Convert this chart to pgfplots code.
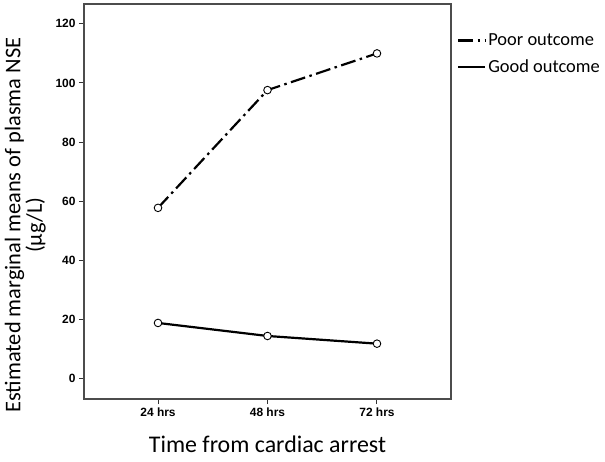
\documentclass[border=0pt]{standalone}
\usepackage{fontspec}
\setmainfont{Carlito}
\newfontfamily\tickfont{Liberation Sans}
\usepackage{pgfplots}
\pgfplotsset{compat=1.18}
\begin{document}
\begin{tikzpicture}
\useasboundingbox (0,0) rectangle (605bp,462bp);
\begin{axis}[
  at={(84bp,63bp)}, anchor=south west,
  scale only axis, width=367bp, height=395bp,
  xmin=0.324, xmax=3.676, ymin=-6.8, ymax=126.7,
  xtick={1,2,3}, xticklabels={24 hrs,48 hrs,72 hrs},
  ytick={0,20,...,120},
  tick align=outside, tick pos=left, major tick length=5bp,
  tick style={black!80, line width=1bp},
  ticklabel style={font=\tickfont\bfseries\fontsize{12}{13}\selectfont},
  /pgf/number format/assume math mode=true,
  axis line style={black!70, line width=1.1bp},
  xlabel={Time from cardiac arrest},
  ylabel={Estimated marginal means of plasma NSE\\(µg/L)},
  ylabel style={align=center, at={(axis description cs:-0.095,0.44)}, anchor=south,
    font=\fontsize{22.5}{21.5}\selectfont},
  xlabel style={at={(axis description cs:0.5,-0.085)}, anchor=north,
    font=\fontsize{24}{26}\selectfont},
  legend style={at={(1.008,0.935)}, anchor=north west, draw=none, fill=none,
    font=\fontsize{18.5}{21}\selectfont, row sep=9bp},
  legend cell align=left,
  legend image code/.code={\draw[#1] (0bp,0bp) -- (27bp,0bp);},
]
\addplot[black, line width=2.2bp, dash pattern=on 15bp off 4.5bp on 2.5bp off 4.5bp,
  mark=*, mark size=3.8bp, mark options={solid, fill=white, draw=black, line width=0.9bp}]
  coordinates {(1,57.8) (2,97.6) (3,110)};
\addlegendentry{Poor outcome}
\addplot[black, line width=2.2bp,
  mark=*, mark size=3.8bp, mark options={solid, fill=white, draw=black, line width=0.9bp}]
  coordinates {(1,18.9) (2,14.5) (3,11.9)};
\addlegendentry{Good outcome}
\end{axis}
\end{tikzpicture}
\end{document}
